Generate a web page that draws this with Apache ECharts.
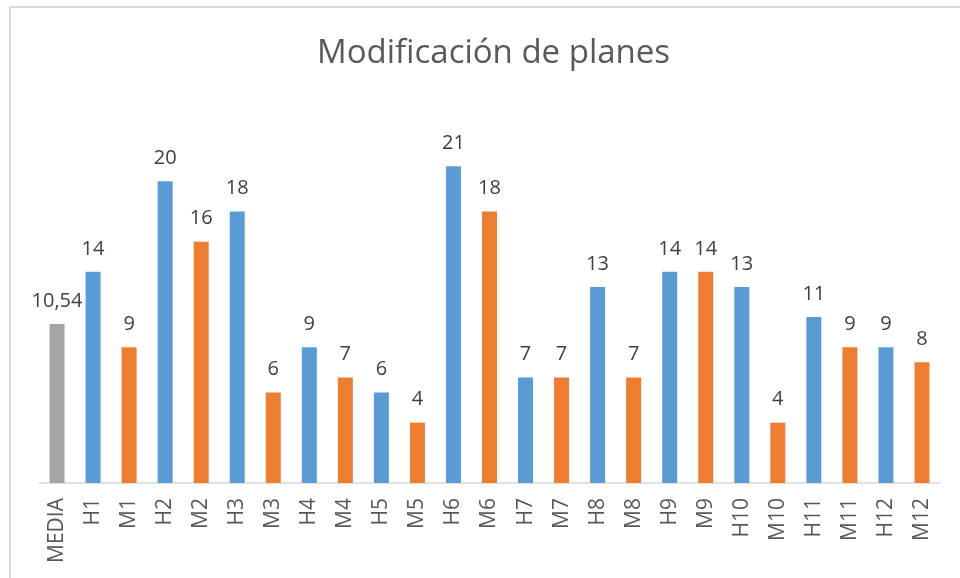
<!DOCTYPE html>
<html>
<head>
<meta charset="utf-8">
<script src="https://cdn.jsdelivr.net/npm/echarts@6/dist/echarts.min.js"></script>
<style>
  html, body { margin: 0; padding: 0; background: #fff; }
  #main { width: 960px; height: 578px; }
</style>
</head>
<body>
<div id="main"></div>
<script>
var categories = ['MEDIA', 'H1', 'M1', 'H2', 'M2', 'H3', 'M3', 'H4', 'M4', 'H5', 'M5', 'H6', 'M6',
    'H7', 'M7', 'H8', 'M8', 'H9', 'M9', 'H10', 'M10', 'H11', 'M11', 'H12', 'M12'];
var values = [10.54, 14, 9, 20, 16, 18, 6, 9, 7, 6, 4, 21, 18, 7, 7, 13, 7, 14, 14, 13, 4, 11, 9, 9, 8];

var colorMedia = '#A5A5A5';
var colorH = '#5B9BD5';
var colorM = '#ED7D31';

function barColor(name) {
    if (name === 'MEDIA') return colorMedia;
    return name.charAt(0) === 'H' ? colorH : colorM;
}

var myChart = echarts.init(document.getElementById('main'));
var option = {
    backgroundColor: '#fff',
    graphic: [{
        type: 'rect',
        shape: { x: 10, y: 7, width: 1000, height: 1000 },
        style: { fill: 'none', stroke: '#D9D9D9', lineWidth: 2 }
    }],
    title: {
        text: 'Modificación de planes',
        left: 312,
        top: 32,
        textStyle: {
            fontFamily: 'Open Sans',
            fontSize: 33,
            fontWeight: 'normal',
            color: '#595959'
        }
    },
    grid: {
        left: 39,
        right: 20,
        top: 121,
        bottom: 95
    },
    xAxis: {
        type: 'category',
        data: categories,
        axisLine: { lineStyle: { color: '#D9D9D9', width: 1.5 } },
        axisTick: { show: false },
        axisLabel: {
            rotate: 90,
            margin: 15,
            fontFamily: 'Open Sans',
            fontSize: 21,
            color: '#595959'
        }
    },
    yAxis: {
        type: 'value',
        min: 0,
        max: 24,
        show: false
    },
    series: [{
        type: 'bar',
        barWidth: 15,
        data: values.map(function(v, i) {
            return { value: v, itemStyle: { color: barColor(categories[i]) } };
        }),
        label: {
            show: true,
            position: 'top',
            distance: 13,
            fontFamily: 'Open Sans',
            fontSize: 20,
            color: '#404040',
            formatter: function(p) {
                return String(p.value).replace('.', ',');
            }
        }
    }]
};
myChart.setOption(option);
</script>
</body>
</html>
